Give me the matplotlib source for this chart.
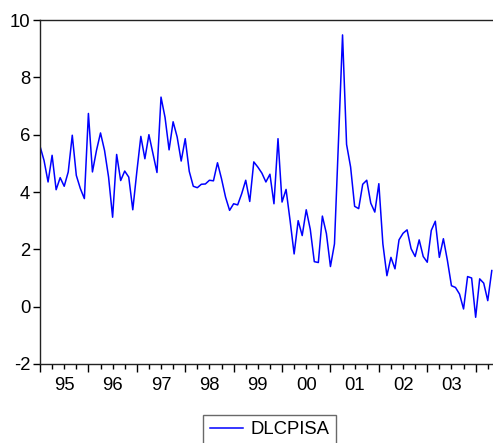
import numpy as np
import matplotlib
matplotlib.use("Agg")
import matplotlib.pyplot as plt
import matplotlib.transforms as mtransforms

plt.rcParams['font.family'] = ['Liberation Sans', 'DejaVu Sans']

# monthly series, 1995:01 .. 2004:05
series_name = "DLCPISA"
dlcpisa = [
    5.60, 5.10, 4.35, 5.28, 4.08, 4.50, 4.20, 4.70, 5.98, 4.58, 4.12, 3.77,
    6.74, 4.70, 5.45, 6.06, 5.45, 4.52, 3.12, 5.31, 4.40, 4.73, 4.52, 3.38,
    4.70, 5.94, 5.16, 6.00, 5.34, 4.68, 7.31, 6.60, 5.47, 6.45, 5.92, 5.08,
    5.86, 4.72, 4.20, 4.15, 4.27, 4.28, 4.41, 4.39, 5.02, 4.46, 3.82, 3.36,
    3.59, 3.55, 3.94, 4.41, 3.67, 5.05, 4.87, 4.66, 4.35, 4.62, 3.59, 5.86,
    3.65, 4.09, 3.00, 1.84, 3.00, 2.48, 3.38, 2.70, 1.57, 1.54, 3.16, 2.55,
    1.40, 2.19, 5.80, 9.48, 5.66, 4.87, 3.50, 3.42, 4.27, 4.41, 3.61, 3.30,
    4.29, 2.19, 1.08, 1.72, 1.32, 2.33, 2.56, 2.68, 2.02, 1.75, 2.33, 1.75,
    1.55, 2.66, 2.98, 1.72, 2.37, 1.61, 0.73, 0.67, 0.44, -0.08, 1.05, 1.00,
    -0.37, 0.97, 0.82, 0.21, 1.26,
]
year_labels = ["95", "96", "97", "98", "99", "00", "01", "02", "03"]
y_ticks = [-2, 0, 2, 4, 6, 8, 10]

fs = 13.3

fig = plt.figure(figsize=(4.93, 4.43), dpi=100)
ax = fig.add_axes([40 / 493, 1 - 364 / 443, 453 / 493, 344 / 443])

x = np.arange(len(dlcpisa))
ax.plot(x, dlcpisa, color="#0000FF", lw=1.1, label=series_name)

ax.set_xlim(0, 112.3)
ax.set_ylim(-2, 10)
ax.set_yticks(y_ticks)
ax.set_yticklabels([str(v) for v in y_ticks])

# year boundaries as major ticks, quarters as minor
ax.set_xticks(np.arange(0, len(dlcpisa), 12))
ax.set_xticklabels([])
ax.set_xticks(np.arange(0, len(dlcpisa), 3), minor=True)
ax.tick_params(axis="x", which="major", direction="out", length=6, width=1)
ax.tick_params(axis="x", which="minor", direction="out", length=3.5, width=1)
ax.tick_params(axis="y", direction="out", length=5, width=1, labelsize=fs, pad=2)

trans = mtransforms.blended_transform_factory(ax.transData, ax.transAxes)
for i, lab in enumerate(year_labels):
    ax.text(12 * i + 6, -0.038, lab, transform=trans, ha="center", va="top", fontsize=fs)

for side in ["left", "bottom", "top"]:
    ax.spines[side].set_linewidth(1.0)
    ax.spines[side].set_color("#222222")
ax.spines["right"].set_visible(False)

leg = fig.legend(loc="upper center", bbox_to_anchor=(0.5465, 0.064), fontsize=fs,
                 frameon=True, fancybox=False, handlelength=1.8, handletextpad=0.4,
                 borderpad=0.35, borderaxespad=0)
leg.get_frame().set_edgecolor("#444444")
leg.get_frame().set_linewidth(1.0)

fig.savefig("out.png", dpi=100)
